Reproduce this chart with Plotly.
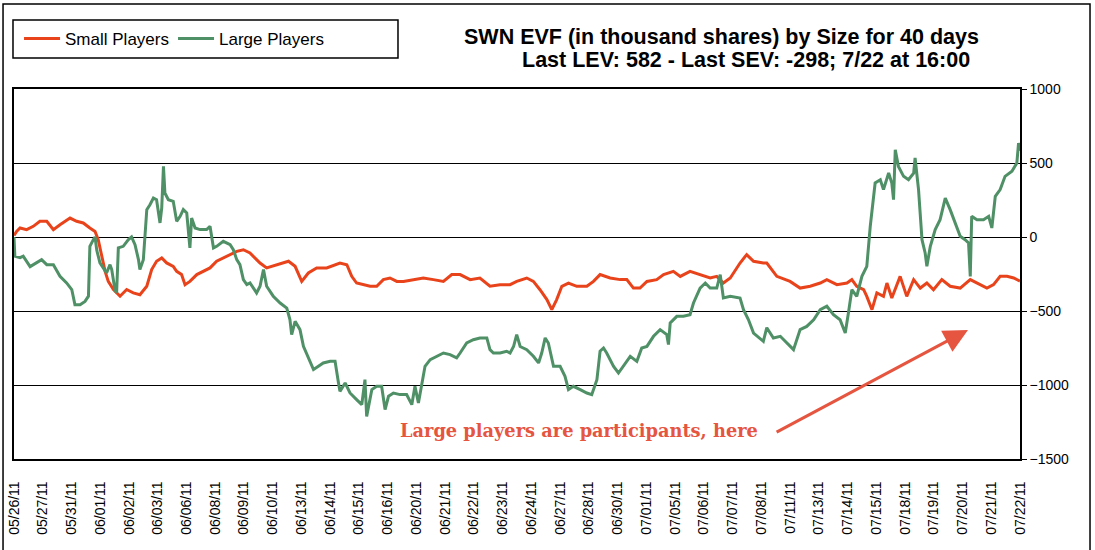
import plotly.graph_objects as go

# Category (day) labels on the x axis
dates = ["05/26/11", "05/27/11", "05/31/11", "06/01/11", "06/02/11", "06/03/11",
         "06/06/11", "06/08/11", "06/09/11", "06/10/11", "06/13/11", "06/14/11",
         "06/15/11", "06/16/11", "06/20/11", "06/21/11", "06/22/11", "06/23/11",
         "06/24/11", "06/27/11", "06/28/11", "06/30/11", "07/01/11", "07/05/11",
         "07/06/11", "07/07/11", "07/08/11", "07/11/11", "07/13/11", "07/14/11",
         "07/15/11", "07/18/11", "07/19/11", "07/20/11", "07/21/11", "07/22/11"]

# Time in day-index units (0 = 05/26 open, 35 = 07/22 close)
small_t = [0.00, 0.09, 0.21, 0.44, 0.67, 0.90, 1.14, 1.37, 1.60, 1.95, 2.18, 2.41,
           2.64, 2.82, 2.93, 3.05, 3.17, 3.28, 3.46, 3.69, 3.92, 4.15, 4.38, 4.62,
           4.79, 4.96, 5.14, 5.31, 5.54, 5.66, 5.83, 5.95, 6.12, 6.36, 6.59, 6.82,
           7.05, 7.28, 7.52, 7.75, 7.98, 8.21, 8.44, 8.56, 8.79, 9.14, 9.55, 9.78,
           10.01, 10.24, 10.53, 10.88, 11.34, 11.58, 11.75, 11.92, 12.16, 12.39,
           12.62, 12.85, 13.08, 13.32, 13.55, 13.90, 14.24, 14.59, 14.94, 15.23,
           15.52, 15.87, 16.21, 16.56, 16.91, 17.26, 17.49, 17.84, 18.07, 18.30,
           18.54, 18.71, 18.88, 19.06, 19.29, 19.58, 19.93, 20.16, 20.39, 20.74,
           21.09, 21.32, 21.55, 21.78, 22.02, 22.36, 22.60, 22.94, 23.18, 23.52,
           23.87, 24.22, 24.45, 24.68, 24.92, 25.26, 25.49, 25.73, 26.07, 26.19,
           26.54, 27.00, 27.35, 27.70, 28.05, 28.28, 28.63, 28.98, 29.15, 29.32,
           29.56, 29.67, 29.85, 30.02, 30.25, 30.37, 30.54, 30.83, 31.06, 31.30,
           31.53, 31.76, 31.99, 32.28, 32.57, 32.92, 33.27, 33.61, 33.85, 34.08,
           34.31, 34.55, 34.78, 35.00]
small_v = [10, 38, 61, 50, 72, 106, 106, 50, 83, 128, 106, 95,
           61, 38, -18, -130, -232, -300, -355, -400, -355, -378, -390, -333,
           -220, -164, -142, -175, -198, -232, -254, -322, -300, -254, -232, -209,
           -164, -142, -119, -97, -86, -108, -153, -176, -209, -187, -164, -198,
           -300, -243, -209, -209, -176, -187, -266, -311, -322, -333,
           -333, -288, -277, -300, -300, -288, -277, -288, -300, -254,
           -254, -288, -277, -333, -322, -322, -300, -277, -300, -356,
           -423, -491, -423, -333, -311, -333, -333, -300, -254, -277,
           -288, -288, -345, -345, -300, -288, -254, -232, -266, -232,
           -254, -277, -266, -311, -277, -176, -119, -164, -176, -176,
           -266, -300, -345, -333, -311, -288, -322, -311, -288, -333,
           -356, -401, -491, -378, -401, -311, -412, -266, -401, -288,
           -345, -311, -356, -288, -333, -345, -288, -322, -345, -322,
           -266, -266, -277, -298]

large_t = [0.00, 0.03, 0.21, 0.32, 0.56, 0.79, 0.96, 1.14, 1.37, 1.60, 1.83, 2.01,
           2.12, 2.30, 2.47, 2.59, 2.64, 2.76, 2.82, 2.88, 2.99, 3.22, 3.34, 3.40,
           3.51, 3.57, 3.63, 3.80, 3.98, 4.09, 4.21, 4.33, 4.38, 4.50, 4.62, 4.73,
           4.85, 4.96, 5.08, 5.14, 5.20, 5.25, 5.37, 5.54, 5.66, 5.78, 5.89, 6.01,
           6.12, 6.18, 6.30, 6.47, 6.70, 6.82, 6.94, 7.05, 7.28, 7.52, 7.63, 7.75,
           7.86, 7.98, 8.10, 8.21, 8.44, 8.56, 8.68, 8.79, 9.02, 9.26, 9.49, 9.60,
           9.66, 9.78, 9.95, 10.07, 10.24, 10.42, 10.59, 10.76, 11.00, 11.17, 11.29,
           11.34, 11.52, 11.69, 11.92, 12.10, 12.21, 12.27, 12.45, 12.62, 12.79,
           12.91, 13.03, 13.20, 13.43, 13.66, 13.84, 13.95, 14.07, 14.19, 14.30,
           14.48, 14.71, 14.94, 15.17, 15.40, 15.52, 15.75, 15.98, 16.21, 16.45,
           16.56, 16.68, 16.91, 17.14, 17.26, 17.38, 17.49, 17.61, 17.84, 18.07,
           18.25, 18.36, 18.48, 18.59, 18.77, 19.00, 19.17, 19.29, 19.46, 19.70,
           19.93, 20.10, 20.28, 20.39, 20.51, 20.62, 20.86, 21.03, 21.26, 21.44,
           21.67, 21.84, 22.02, 22.25, 22.48, 22.71, 22.77, 22.83, 23.06, 23.29,
           23.52, 23.64, 23.87, 24.05, 24.22, 24.45, 24.57, 24.68, 24.92, 25.26,
           25.38, 25.55, 25.73, 26.07, 26.19, 26.42, 26.66, 26.89, 27.12, 27.35,
           27.58, 27.82, 28.05, 28.28, 28.51, 28.74, 28.92, 29.03, 29.15, 29.32,
           29.50, 29.67, 29.79, 29.96, 30.14, 30.25, 30.43, 30.54, 30.60, 30.66,
           30.77, 30.95, 31.12, 31.30, 31.35, 31.47, 31.59, 31.70, 31.76, 31.88,
           32.05, 32.22, 32.40, 32.57, 32.75, 32.92, 33.09, 33.21, 33.27, 33.32,
           33.50, 33.73, 33.91, 34.02, 34.14, 34.31, 34.48, 34.72, 34.89, 34.95,
           35.00]
large_v = [0, -130, -140, -130, -200, -175, -153, -187, -187, -265, -310, -355,
           -457, -457, -435, -400, -63, -18, 0, -90, -175, -243, -187, -220,
           -355, -378, -74, -63, -18, 0, -52, -153, -220, -153, 185, 218,
           263, 252, 95, 196, 477, 297, 252, 241, 106, 140, 185, 162,
           -74, 128, 61, 50, 50, 72, -74, -63, -29, -52, -86, -153,
           -187, -288, -322, -311, -378, -333, -220, -333, -400, -446, -480, -558,
           -660, -570, -626, -739, -817, -896, -874, -851, -840, -840, -986,
           -1043, -986, -1054, -1099, -1133, -964, -1212, -1031, -1009, -1009,
           -1166, -1076, -1054, -1065, -1065, -1133, -1009, -1121, -986, -874,
           -829, -806, -784, -795, -817, -784, -716, -694, -682, -682,
           -761, -784, -784, -772, -784, -740, -660, -740, -761, -806,
           -851, -784, -682, -716, -874, -874, -941, -1031, -1009, -1031,
           -1054, -1065, -964, -772, -750, -784, -874, -919, -851, -806,
           -840, -750, -739, -671, -626, -660, -727, -581, -536, -536,
           -525, -446, -345, -311, -345, -345, -254, -412, -400, -412,
           -491, -558, -649, -705, -613, -682, -671, -716, -761, -626,
           -604, -559, -491, -468, -525, -559, -649, -514, -356, -401,
           -266, -198, 72, 365, 387, 320, 432, 365, 252, 590,
           477, 410, 387, 432, 534, 320, -18, -108, -198, -63,
           50, 117, 263, 185, 95, 5, -18, -40, -266, 140,
           117, 117, 140, 61, 275, 320, 410, 444, 500, 635,
           582]

y_ticks = [-1500, -1000, -500, 0, 500, 1000]

RED = "#E8431A"
GREEN = "#4F9066"
NOTE = "#E5553F"
SANS = "Liberation Sans, Arial, sans-serif"

fig = go.Figure()
fig.add_trace(go.Scatter(x=small_t, y=small_v, mode="lines", name="Small Players",
                         line=dict(color=RED, width=3)))
fig.add_trace(go.Scatter(x=large_t, y=large_v, mode="lines", name="Large Players",
                         line=dict(color=GREEN, width=3)))

fig.update_layout(
    width=1095, height=550,
    margin=dict(l=14, r=75, t=89, b=91, autoexpand=False),
    paper_bgcolor="white", plot_bgcolor="white",
    font=dict(family=SANS, color="black"),
    showlegend=True,
    legend=dict(orientation="h", x=0.005, y=1.135, xanchor="left", yanchor="middle",
                borderwidth=0, bgcolor="rgba(0,0,0,0)",
                font=dict(size=17, family=SANS),
                entrywidth=103, entrywidthmode="pixels", itemwidth=36,
                traceorder="normal"),
    xaxis=dict(range=[0, 35], tickmode="array", tickvals=list(range(len(dates))),
               ticktext=dates, tickangle=-90, showgrid=False, zeroline=False,
               showline=True, linecolor="black", linewidth=1.5, mirror=True,
               ticks="outside", ticklen=15, tickcolor="rgba(0,0,0,0)",
               tickfont=dict(size=14, family=SANS)),
    yaxis=dict(range=[-1500, 1000], side="right", tickvals=y_ticks,
               showgrid=True, gridcolor="black", gridwidth=1.2, zeroline=False,
               showline=True, linecolor="black", linewidth=1.5, mirror=True,
               ticks="outside", ticklen=5, tickcolor="black",
               tickfont=dict(size=14, family=SANS)),
)

# Outer chart frame
fig.add_shape(type="rect", xref="paper", yref="paper",
              x0=-0.0109, x1=1.0696, y0=-0.26, y1=1.2297,
              line=dict(color="black", width=1.5), layer="below")
# Legend frame
fig.add_shape(type="rect", xref="paper", yref="paper",
              x0=-0.001, x1=0.3817, y0=1.0838, y1=1.1865,
              line=dict(color="black", width=1.5), layer="below")

# Title (two lines)
fig.add_annotation(xref="paper", yref="paper", x=0.703, y=1.1405, showarrow=False,
                   xanchor="center", yanchor="middle",
                   text="<b>SWN EVF (in thousand shares) by Size for 40 days</b>",
                   font=dict(size=21.5, family=SANS, color="black"))
fig.add_annotation(xref="paper", yref="paper", x=0.728, y=1.078, showarrow=False,
                   xanchor="center", yanchor="middle",
                   text="<b>Last LEV: 582 - Last SEV: -298; 7/22 at 16:00</b>",
                   font=dict(size=21.5, family=SANS, color="black"))

# Comment text and arrow
fig.add_annotation(xref="paper", yref="paper", x=0.5616, y=0.078, showarrow=False,
                   xanchor="center", yanchor="middle",
                   text="<b>Large players are participants, here</b>",
                   font=dict(size=17.8, family="DejaVu Serif, serif", color=NOTE))
fig.add_annotation(x=33.19, y=-628, ax=26.48, ay=-1324, xref="x", yref="y",
                   axref="x", ayref="y", text="", showarrow=True,
                   arrowhead=2, arrowsize=1.6, arrowwidth=3, arrowcolor=NOTE)

fig.write_html("out.html", config={"displayModeBar": False},
               post_script="document.body.style.margin='0px';")
